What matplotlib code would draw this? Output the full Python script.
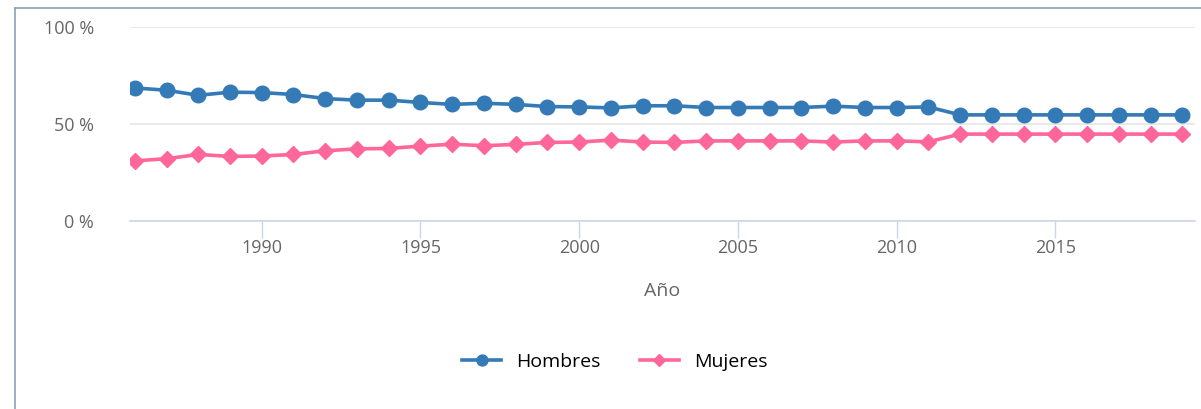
import numpy as np
import matplotlib.pyplot as plt
from matplotlib.lines import Line2D

# data
years = list(range(1986, 2020))
hombres = [68.6, 67.4, 64.8, 66.4, 66.2, 65.2, 63.1, 62.3, 62.3, 61.1,
           60.1, 60.7, 60.1, 59.0, 58.8, 58.3, 59.4, 59.4, 58.5, 58.5,
           58.5, 58.5, 59.2, 58.5, 58.5, 58.8, 54.7, 54.7, 54.7, 54.7,
           54.7, 54.7, 54.7, 54.7]
mujeres = [31.0, 32.1, 34.3, 33.3, 33.5, 34.3, 36.2, 37.2, 37.4, 38.6,
           39.6, 38.8, 39.5, 40.5, 40.7, 41.7, 40.7, 40.5, 41.3, 41.3,
           41.3, 41.3, 40.7, 41.3, 41.3, 40.8, 44.8, 44.8, 44.8, 44.8,
           44.8, 44.8, 44.8, 44.8]
xticks = [1990, 1995, 2000, 2005, 2010, 2015]
yticks = [0, 50, 100]

blue = "#337ab7"
pink = "#ff6699"

plt.rcParams['font.family'] = ['Open Sans', 'DejaVu Sans']

W, H = 1201, 409
fig = plt.figure(figsize=(W / 100, H / 100), dpi=100)
ax = fig.add_axes([130 / W, 1 - 221 / H, (1195 - 130) / W, (221 - 27) / H])

ax.plot(years, hombres, color=blue, lw=2.6, marker="o", ms=10.5, label="Hombres", zorder=3)
ax.plot(years, mujeres, color=pink, lw=2.6, marker="D", ms=8, label="Mujeres", zorder=3)

ax.set_ylim(0, 100)
ax.set_xlim(1985.85, 2019.4)
ax.set_yticks(yticks)
ax.set_yticklabels([f"{v} %" for v in yticks])
ax.set_xticks(xticks)

for s in ["top", "right", "left"]:
    ax.spines[s].set_visible(False)
ax.spines["bottom"].set_color("#ccd6eb")
ax.spines["bottom"].set_linewidth(1.2)

ax.grid(axis="y", color="#e6e6e6", lw=1.2)
ax.set_axisbelow(True)
ax.tick_params(axis="y", length=0, pad=26, labelsize=13, labelcolor="#666666")
ax.tick_params(axis="x", length=12, width=1, color="#ccd6eb", pad=1,
               labelsize=13, labelcolor="#666666")
ax.set_xlabel("Año", fontsize=14, color="#666666", labelpad=18)

ax.legend(loc="center", bbox_to_anchor=(615 / W, 1 - 362 / H), bbox_transform=fig.transFigure,
          ncol=2, frameon=False, fontsize=14, handlelength=2.0, columnspacing=2.0,
          markerscale=0.75)

# outer frame (left and top edges)
fig.add_artist(Line2D([15 / W, 15 / W], [0, 1 - 8 / H], transform=fig.transFigure,
                      color="#8aa0ba", lw=1.2))
fig.add_artist(Line2D([15 / W, 1], [1 - 8 / H, 1 - 8 / H], transform=fig.transFigure,
                      color="#8aa0ba", lw=1.2))

fig.savefig("out.png", dpi=100)
